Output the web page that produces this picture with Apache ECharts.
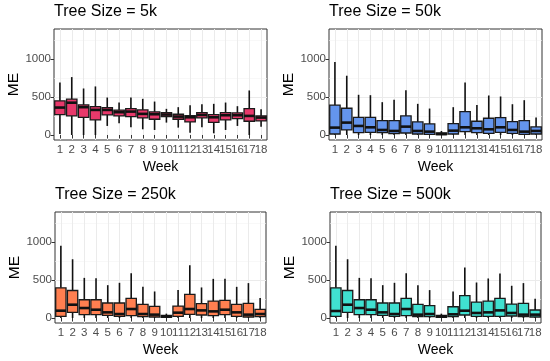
<!DOCTYPE html>
<html><head><meta charset="utf-8">
<script src="https://cdn.jsdelivr.net/npm/echarts@6/dist/echarts.min.js"></script>
<style>html,body{margin:0;padding:0;background:#fff}#c{width:550px;height:361px}</style>
</head><body><div id="c"></div>
<script>
// ---------- data ----------
const weeks = ['1','2','3','4','5','6','7','8','9','10','11','12','13','14','15','16','17','18'];
const panelTitles = ['Tree Size = 5k', 'Tree Size = 50k', 'Tree Size = 250k', 'Tree Size = 500k'];
const panelColors = ['#e8396b', '#6495ed', '#ff7f50', '#40e0d0'];
const yTickValues = [0, 500, 1000];
// each row: [lower whisker, Q1, median, Q3, upper whisker]
const box5k = [
  [13,269,361,449,692],[0,251,425,471,762],[0,233,366,396,612],[0,198,330,374,639],
  [119,264,330,361,493],[154,251,300,326,427],[101,242,308,348,493],[75,225,278,330,476],
  [66,207,273,304,440],[163,242,269,295,344],[97,207,242,273,366],[31,172,233,255,392],
  [101,225,264,295,405],[22,167,233,269,410],[66,198,260,295,427],[119,216,260,291,379],
  [0,181,251,348,586],[110,185,229,251,339]
];
const box50k = [
  [0,13,97,392,960],[0,66,163,352,780],[0,31,119,233,529],[0,35,101,233,524],
  [0,31,66,189,432],[0,18,53,189,463],[0,26,110,251,590],[0,13,53,172,410],
  [0,9,44,145,348],[0,4,13,26,53],[0,13,57,150,366],[0,44,101,308,692],
  [0,31,88,181,396],[0,22,75,220,520],[0,35,101,229,507],[0,22,66,176,405],
  [0,9,44,189,458],[0,13,53,106,229]
];
const box250k = [
  [0,22,96,397,952],[0,74,175,362,773],[0,44,131,240,528],[0,44,109,240,524],
  [0,35,74,197,432],[0,22,52,197,463],[0,31,118,258,590],[0,17,52,179,410],
  [0,13,44,153,349],[0,9,22,35,57],[0,22,70,157,367],[0,48,118,310,694],
  [0,39,100,188,402],[0,31,87,223,515],[0,44,109,231,515],[0,22,74,179,410],
  [0,13,44,192,459],[0,17,52,114,262]
];
const box500k = [
  [0,22,92,397,952],[0,74,175,362,773],[0,44,131,240,528],[0,44,109,240,524],
  [0,35,74,197,432],[0,22,52,197,463],[0,31,118,258,590],[0,17,44,179,432],
  [0,17,52,162,367],[0,9,22,35,57],[0,17,48,148,349],[0,39,96,293,664],
  [0,22,66,210,467],[0,22,74,223,520],[0,22,100,258,585],[0,26,66,183,424],
  [0,17,44,192,459],[0,13,44,105,253]
];
const panelData = [box5k, box50k, box250k, box500k];

// ---------- layout ----------
const FONT = '"Liberation Sans", Arial, Helvetica, sans-serif';
const grids = [
  {left:54, top:29, width:213, height:111},
  {left:329, top:29, width:213, height:111},
  {left:55, top:212, width:211, height:111},
  {left:330, top:212, width:211, height:111}
];
const titlePos = [{left:54, top:4},{left:329, top:4},{left:55, top:187},{left:330, top:187}];

function renderBox(color){
  return function(params, api){
    const x = api.value(0);
    const lo = api.coord([x, api.value(1)]);
    const q1 = api.coord([x, api.value(2)]);
    const md = api.coord([x, api.value(3)]);
    const q3 = api.coord([x, api.value(4)]);
    const hi = api.coord([x, api.value(5)]);
    const bw = api.size([1,0])[0] * 0.88;
    const cx = md[0];
    return {type:'group', children:[
      {type:'line', shape:{x1:cx,y1:hi[1],x2:cx,y2:q3[1]}, style:{stroke:'#111', lineWidth:1.6}},
      {type:'line', shape:{x1:cx,y1:q1[1],x2:cx,y2:lo[1]}, style:{stroke:'#111', lineWidth:1.6}},
      {type:'rect', shape:{x:cx-bw/2, y:q3[1], width:bw, height:q1[1]-q3[1]},
        style:{fill:color, stroke:'#1a1a1a', lineWidth:1.3}},
      {type:'line', shape:{x1:cx-bw/2,y1:md[1],x2:cx+bw/2,y2:md[1]}, style:{stroke:'#111', lineWidth:2.6}}
    ]};
  };
}

const option = {
  backgroundColor:'#fff',
  animation:false,
  title: panelTitles.map((t,i)=>({text:t, left:titlePos[i].left, top:titlePos[i].top, padding:0,
    textStyle:{fontSize:16, fontWeight:'normal', color:'#000', fontFamily:FONT}})),
  grid: grids.map(g=>Object.assign({show:true, backgroundColor:'#fff', borderColor:'#333', borderWidth:1, containLabel:false}, g)),
  xAxis: [],
  yAxis: [],
  series: []
};

for (let i=0;i<4;i++){
  option.xAxis.push({
    type:'category', gridIndex:i, data:weeks, boundaryGap:true,
    axisLine:{show:false},
    axisTick:{show:true, alignWithLabel:true, length:3.5, lineStyle:{color:'#333', width:1}},
    axisLabel:{interval:0, fontSize:11.5, color:'#4d4d4d', margin:4, fontFamily:FONT},
    splitLine:{show:false},
    name:'Week', nameLocation:'middle', nameGap:20,
    nameTextStyle:{fontSize:14, color:'#000', fontFamily:FONT}
  });
  option.xAxis.push({
    type:'value', gridIndex:i, position:'top', min:0.5, max:18.5, minInterval:1, maxInterval:1,
    axisLine:{show:false}, axisTick:{show:false}, axisLabel:{show:false},
    splitLine:{show:true, showMinLine:false, showMaxLine:false, lineStyle:{color:'#ebebeb', width:1}}
  });
  option.yAxis.push({
    type:'value', gridIndex:i, min:-66, max:1395, minInterval:500, maxInterval:500,
    axisLine:{show:false},
    axisTick:{show:true, length:3.5, customValues:yTickValues, lineStyle:{color:'#333', width:1}},
    axisLabel:{customValues:yTickValues, formatter:(v)=>String(v), fontSize:11.5, color:'#4d4d4d', margin:3, fontFamily:FONT},
    splitLine:{show:true, showMinLine:false, showMaxLine:false, lineStyle:{color:'#ebebeb', width:1}},
    minorTick:{show:false, splitNumber:2},
    minorSplitLine:{show:true, lineStyle:{color:'#f4f4f4', width:0.6}},
    name:'ME', nameLocation:'middle', nameGap:32,
    nameTextStyle:{fontSize:15.5, color:'#000', fontFamily:FONT}
  });
  option.series.push({
    type:'custom', xAxisIndex:2*i, yAxisIndex:i,
    renderItem: renderBox(panelColors[i]),
    encode:{x:0, y:[1,2,3,4,5]},
    data: panelData[i].map((r,k)=>[k].concat(r)),
    z:5
  });
}

const chart = echarts.init(document.getElementById('c'), null, {renderer:'canvas'});
chart.setOption(option);
</script></body></html>
